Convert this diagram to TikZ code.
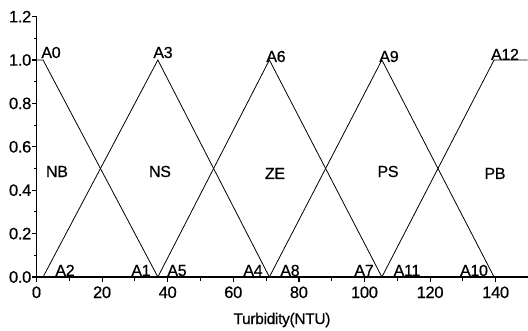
\documentclass[tikz,border=0pt]{standalone}
\usepackage{fontspec}
\setmainfont{Liberation Sans}[FakeBold=0.6,LetterSpace=-2]
\begin{document}
\begin{tikzpicture}[x=1pt,y=1pt,
  axisline/.style={line width=1.6pt},
  mfline/.style={line width=0.8pt},
  lbl/.style={inner sep=0pt,anchor=base,font=\fontsize{16}{18}\selectfont},
  ticklbl/.style={inner sep=0pt,font=\fontsize{16.5}{18}\selectfont},
  titlelbl/.style={inner sep=0pt,anchor=base,font=\fontsize{15.5}{17}\selectfont}]
\useasboundingbox (0,0) rectangle (528,330);
% data scope: origin at pixel (36,277)
\begin{scope}[shift={(36.5,53)},x=3.28pt,y=217pt]
  % axes
  \coordinate (O) at (0,0);
  \coordinate (Ytop) at (0,1.2);
  \coordinate (Xend) at (149.9,0);
  \draw[axisline] (Ytop) -- (O) -- (Xend);
  \foreach \v in {0,0.2,...,1.21} \draw[line width=1.2pt] (0,\v) -- ++(-5pt,0);
  \foreach \v in {0.1,0.3,...,1.11} \draw[line width=1pt] (0,\v) -- ++(-3pt,0);
  \foreach \u in {0,20,...,140} \draw[line width=1.2pt] (\u,0) -- ++(0,-5pt);
  \foreach \u in {10,30,...,130} \draw[line width=1pt] (\u,0) -- ++(0,-3.5pt);
  % membership points
  \coordinate (a0) at (0,1);
  \coordinate (a0f) at (2,1);
  \coordinate (a1) at (37,0);
  \coordinate (a2) at (2,0);
  \coordinate (a3) at (37,1);
  \coordinate (a4) at (71,0);
  \coordinate (a5) at (37,0);
  \coordinate (a6) at (71,1);
  \coordinate (a7) at (105.3,0);
  \coordinate (a8) at (71,0);
  \coordinate (a9) at (105.3,1);
  \coordinate (a10) at (139.5,0);
  \coordinate (a11) at (105.3,0);
  \coordinate (a12) at (139.5,1);
  \coordinate (a12e) at (149.7,1);
  \draw[mfline] (a0) -- (a0f) -- (a1);
  \draw[mfline] (a2) -- (a3) -- (a4);
  \draw[mfline] (a5) -- (a6) -- (a7);
  \draw[mfline] (a8) -- (a9) -- (a10);
  \draw[mfline] (a11) -- (a12) -- (a12e);
\end{scope}
% y tick labels
\foreach \v/\t in {0/0.0,0.2/0.2,0.4/0.4,0.6/0.6,0.8/0.8,1.0/1.0,1.2/1.2}
  \node[ticklbl,anchor=east] (y\t) at (31.5,{53+217*\v}) {\t};
% x tick labels
\foreach \u in {0,20,40,60,80,100,120,140}
  \node[ticklbl,anchor=base] (x\u) at ({36.5+3.28*\u},32) {\u};
\node[titlelbl] (title) at (282,6) {Turbidity(NTU)};
% top labels
\node[lbl] (lA0) at (51,272) {A0};
\node[lbl] (lA3) at (163,272) {A3};
\node[lbl] (lA6) at (276,268) {A6};
\node[lbl] (lA9) at (389,268) {A9};
\node[lbl] (lA12) at (505,270) {A12};
% bottom labels
\node[lbl] (lA2) at (65,54) {A2};
\node[lbl] (lA1) at (141,54) {A1};
\node[lbl] (lA5) at (177,54) {A5};
\node[lbl] (lA4) at (253,54) {A4};
\node[lbl] (lA8) at (290,54) {A8};
\node[lbl] (lA7) at (364,54) {A7};
\node[lbl] (lA11) at (407,54) {A11};
\node[lbl] (lA10) at (474,54) {A10};
% set labels
\node[lbl] (NB) at (57,153) {NB};
\node[lbl] (NS) at (160,153) {NS};
\node[lbl] (ZE) at (275,151) {ZE};
\node[lbl] (PS) at (388,153) {PS};
\node[lbl] (PB) at (495,151) {PB};
\end{tikzpicture}
\end{document}
